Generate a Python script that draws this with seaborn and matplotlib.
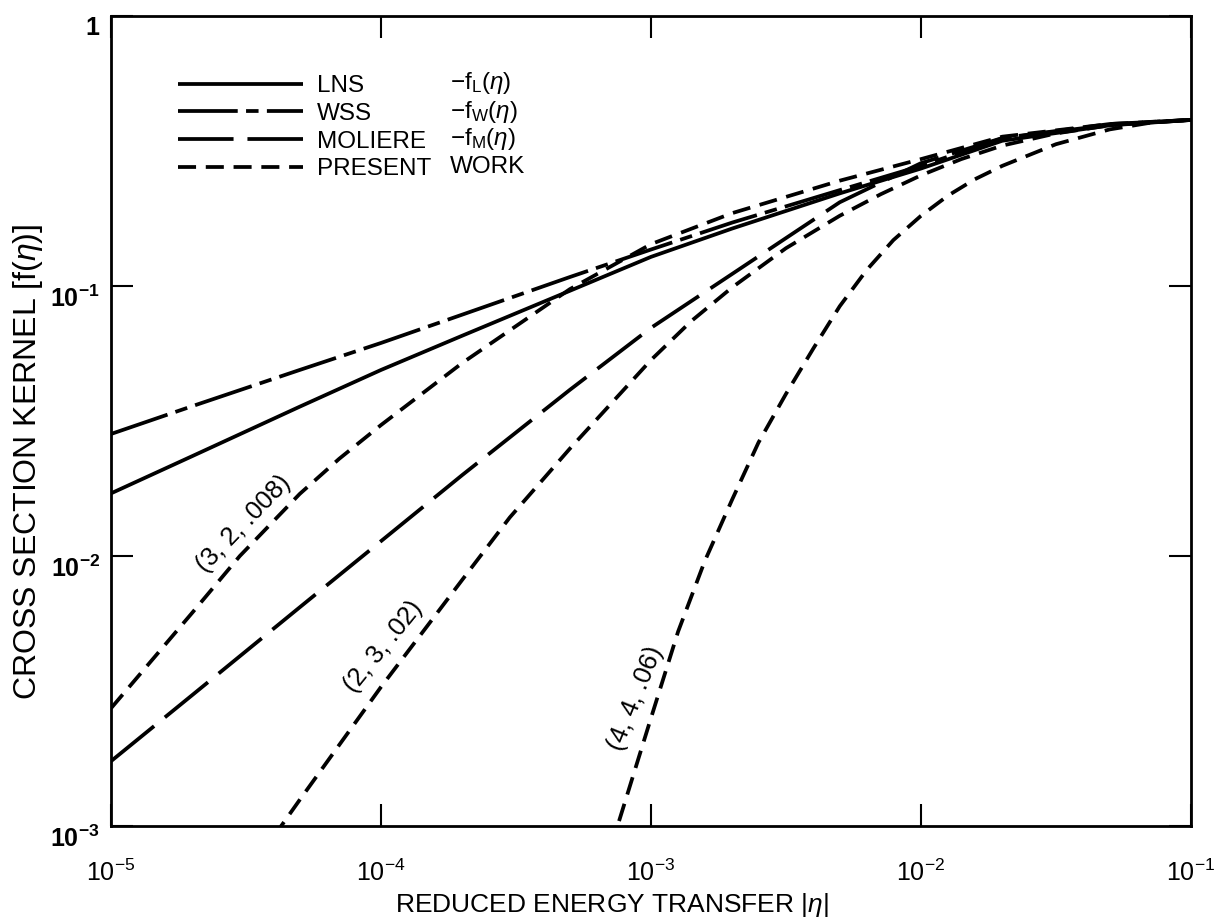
import math
import matplotlib
matplotlib.use("Agg")
import matplotlib.pyplot as plt
import seaborn as sns
import pandas as pd
from matplotlib.ticker import FixedLocator, FuncFormatter, NullLocator
from matplotlib.lines import Line2D

# ---- kernel curves f(eta) ----
eta_lns = [1e-5, 2e-5, 5e-5, 1e-4, 2e-4, 5e-4, 1e-3, 2e-3, 5e-3, 1e-2, 2e-2, 5e-2, 1e-1]
f_lns = [0.01706, 0.02344, 0.03573, 0.04887, 0.06546, 0.09594, 0.1282, 0.1633,
         0.2203, 0.2723, 0.3451, 0.3936, 0.4121]

eta_wss = [1e-5, 2e-5, 5e-5, 1e-4, 2e-4, 5e-4, 1e-3, 2e-3, 5e-3, 1e-2, 2e-2, 5e-2, 1e-1]
f_wss = [0.02831, 0.03589, 0.04887, 0.06152, 0.07834, 0.1079, 0.1365, 0.1718,
         0.2265, 0.2786, 0.3524, 0.3954, 0.4121]

eta_mol = [1e-5, 2e-5, 5e-5, 1e-4, 2e-4, 5e-4, 1e-3, 2e-3, 5e-3, 1e-2, 2e-2, 5e-2, 1e-1]
f_mol = [0.001738, 0.003055, 0.006457, 0.01135, 0.01995, 0.04121, 0.06998, 0.1109,
         0.2042, 0.2851, 0.3532, 0.3981, 0.4121]

# present work, parameter sets (3, 2, .008), (2, 3, .02), (4, 4, .06)
eta_pw1 = [1e-5, 2e-5, 3e-5, 5e-5, 7e-5, 1e-4, 2e-4, 5e-4, 1e-3, 2e-3, 5e-3, 1e-2,
           2e-2, 5e-2, 1e-1]
f_pw1 = [0.002729, 0.006166, 0.0100, 0.01698, 0.02291, 0.03055, 0.05188, 0.09727,
         0.1429, 0.1862, 0.2455, 0.2951, 0.3573, 0.3981, 0.4121]

eta_pw2 = [4e-5, 5e-5, 7e-5, 1e-4, 1.5e-4, 2e-4, 3e-4, 5e-4, 1e-3, 1.41e-3, 2e-3,
           3.16e-3, 5e-3, 7.1e-3, 1e-2, 1.41e-2, 2e-2, 3.16e-2, 5e-2, 7.1e-2, 1e-1]
f_pw2 = [0.000912, 0.00125, 0.001995, 0.003273, 0.005585, 0.008166, 0.0139, 0.02495,
         0.0532, 0.07413, 0.0989, 0.138, 0.182, 0.2188, 0.257, 0.2951, 0.3311,
         0.3673, 0.3936, 0.4055, 0.4121]

eta_pw3 = [7.1e-4, 1e-3, 1.26e-3, 1.58e-3, 2e-3, 2.5e-3, 3.16e-3, 4e-3, 5e-3, 6.3e-3,
           7.9e-3, 1e-2, 1.26e-2, 1.58e-2, 2e-2, 3.16e-2, 5e-2, 7.1e-2, 1e-1]
f_pw3 = [0.000832, 0.002512, 0.005248, 0.00955, 0.01622, 0.0263, 0.03981, 0.05888,
         0.08414, 0.1148, 0.1479, 0.1820, 0.2163, 0.2483, 0.2786, 0.3350, 0.3802,
         0.4027, 0.4121]

curve_labels = ["(3, 2, .008)", "(2, 3, .02)", "(4, 4, .06)"]
label_eta = [3.1e-5, 1.02e-4, 8.8e-4]
label_f = [0.0131, 0.00462, 0.00298]
label_angle = [46, 51, 68]

legend_names = ["LNS", "WSS", "MOLIERE", "PRESENT"]
legend_funcs = [r"$-\mathrm{f}_{\mathrm{L}}(\eta)$", r"$-\mathrm{f}_{\mathrm{W}}(\eta)$",
                r"$-\mathrm{f}_{\mathrm{M}}(\eta)$", "WORK"]

x_ticks = [1e-5, 1e-4, 1e-3, 1e-2, 1e-1]
y_ticks = [1e-3, 1e-2, 1e-1, 1]

# ---- styling ----
sns.set_theme(style="ticks")
plt.rcParams["font.family"] = ["Liberation Sans", "DejaVu Sans"]
plt.rcParams["mathtext.fontset"] = "custom"
plt.rcParams["mathtext.rm"] = "Liberation Sans"
plt.rcParams["mathtext.it"] = "Liberation Sans:italic"
plt.rcParams["mathtext.bf"] = "Liberation Sans:bold"
plt.rcParams["lines.scale_dashes"] = False
plt.rcParams["text.color"] = "black"

LW = 2.7
STYLE = {
    "LNS": "-",
    "WSS": (0, (43, 6, 9, 6)),
    "MOLIERE": (0, (40, 10)),
    "PRESENT": (0, (13, 7)),
}

fig = plt.figure(figsize=(12.19, 9.17), dpi=100)
ax = fig.add_axes([111 / 1219, 91 / 917, 1080 / 1219, 810 / 917])
ax.set_xscale("log")
ax.set_yscale("log")

series = [
    (eta_lns, f_lns, "LNS"),
    (eta_wss, f_wss, "WSS"),
    (eta_mol, f_mol, "MOLIERE"),
    (eta_pw1, f_pw1, "PRESENT"),
    (eta_pw2, f_pw2, "PRESENT"),
    (eta_pw3, f_pw3, "PRESENT"),
]
for eta, f, key in series:
    df = pd.DataFrame({"eta": eta, "f": f})
    sns.lineplot(data=df, x="eta", y="f", ax=ax, color="black", lw=LW,
                 linestyle=STYLE[key], legend=False, sort=False,
                 estimator=None, solid_capstyle="butt", dash_capstyle="butt",
                 solid_joinstyle="round", dash_joinstyle="round")

ax.set_xlim(1e-5, 1e-1)
ax.set_ylim(1e-3, 1)

# curve annotations
for txt, xe, yf, ang in zip(curve_labels, label_eta, label_f, label_angle):
    ax.text(xe, yf, txt, rotation=ang, rotation_mode="anchor", ha="center",
            va="center", fontsize=18.5, color="black")

# ticks
ax.xaxis.set_major_locator(FixedLocator(x_ticks))
ax.yaxis.set_major_locator(FixedLocator(y_ticks))
ax.xaxis.set_minor_locator(NullLocator())
ax.yaxis.set_minor_locator(NullLocator())


def xfmt(v, pos):
    e = int(round(math.log10(v)))
    return r"$10^{%d}$" % e


def yfmt(v, pos):
    e = int(round(math.log10(v)))
    return r"$\mathbf{1}$" if e == 0 else r"$\mathbf{10^{%d}}$" % e


ax.xaxis.set_major_formatter(FuncFormatter(xfmt))
ax.yaxis.set_major_formatter(FuncFormatter(yfmt))
ax.tick_params(axis="both", which="major", direction="in", length=16, width=1.5,
               top=True, right=True, colors="black", labelsize=18)
ax.tick_params(axis="x", pad=24)
ax.tick_params(axis="y", pad=8)
for lab in ax.get_yticklabels():
    lab.set_verticalalignment("top")

for sp in ax.spines.values():
    sp.set_linewidth(2.0)
    sp.set_color("black")

ax.set_xlabel(r"REDUCED ENERGY TRANSFER |$\eta$|", fontsize=19, color="black")
ax.xaxis.set_label_coords(0.464, -0.080)
ax.set_ylabel(r"CROSS SECTION KERNEL [f($\eta$)]", fontsize=23, color="black")
ax.yaxis.set_label_coords(-0.061, 0.45)

# legend
handles = [Line2D([], [], color="black", lw=LW, linestyle=STYLE[k],
                  solid_capstyle="butt", dash_capstyle="butt") for k in legend_names]
ax.legend(handles, legend_names, loc="upper left", bbox_to_anchor=(0.062, 0.927),
          frameon=False, handlelength=5.14, handletextpad=0.58, labelspacing=0.235,
          borderpad=0, borderaxespad=0, fontsize=17.5)
row_y = [0.9173, 0.8815, 0.8481, 0.8136]
for txt, yy in zip(legend_funcs, row_y):
    ax.text(0.3139, yy, txt, transform=ax.transAxes, fontsize=17.5, va="center",
            ha="left", color="black")

fig.savefig("out.png", dpi=100, facecolor="white")
